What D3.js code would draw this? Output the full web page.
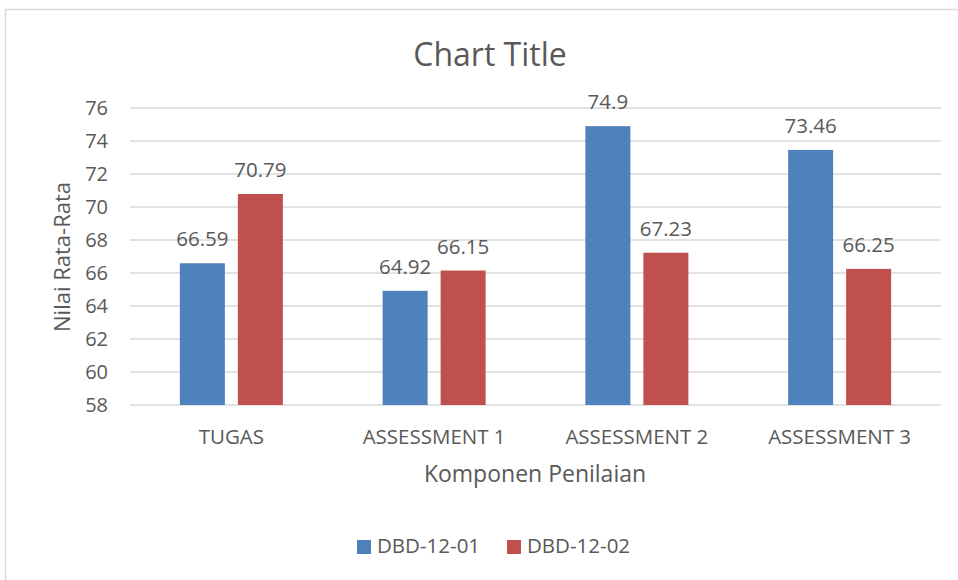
<!DOCTYPE html>
<meta charset="utf-8">
<script src="https://d3js.org/d3.v7.min.js"></script>
<style>
  body { margin: 0; background: #fff; }
  text { font-family: "Open Sans", sans-serif; fill: #595959; }
</style>
<svg id="chart" width="958" height="580"></svg>
<script>

// Data
var categories = ["TUGAS", "ASSESSMENT 1", "ASSESSMENT 2", "ASSESSMENT 3"];
var seriesNames = ["DBD-12-01", "DBD-12-02"];
var dbd1201 = [66.59, 64.92, 74.9, 73.46];
var dbd1202 = [70.79, 66.15, 67.23, 66.25];
var yTicks = [58, 60, 62, 64, 66, 68, 70, 72, 74, 76];

var colors = ["#4F81BD", "#C0504D"];
var seriesValues = [dbd1201, dbd1202];

var svg = d3.select("#chart");

// chart border (runs off the right and bottom edge)
svg.append("rect")
  .attr("x", 5.5).attr("y", 9.5)
  .attr("width", 980).attr("height", 600)
  .attr("fill", "none").attr("stroke", "#D9D9D9").attr("stroke-width", 1.5);

var plotLeft = 130, plotRight = 941, plotTop = 108, plotBottom = 405;

var x0 = d3.scaleBand().domain(categories).range([plotLeft, plotRight]);
var bw = x0.bandwidth();
var x1 = d3.scaleBand().domain(seriesNames)
  .range([bw / 2 - 51.5, bw / 2 + 51.5])
  .paddingInner(0.224);
var y = d3.scaleLinear().domain([58, 76]).range([plotBottom, plotTop]);

// gridlines
svg.append("g")
  .selectAll("line")
  .data(yTicks)
  .enter()
  .append("line")
    .attr("x1", plotLeft).attr("x2", plotRight)
    .attr("y1", function(d){ return y(d) }).attr("y2", function(d){ return y(d) })
    .attr("stroke", "#D9D9D9").attr("stroke-width", 1.5);

// y tick labels
svg.append("g")
  .selectAll("text")
  .data(yTicks)
  .enter()
  .append("text")
    .attr("x", 108)
    .attr("y", function(d){ return y(d) })
    .attr("dy", "0.35em")
    .attr("text-anchor", "end")
    .style("font-size", "20px")
    .text(function(d){ return d });

// bars
var rows = categories.map(function(c, i){
  return seriesNames.map(function(s, j){ return {cat: c, series: s, value: seriesValues[j][i], color: colors[j]} });
});

var groups = svg.append("g")
  .selectAll("g")
  .data(rows)
  .enter()
  .append("g")
    .attr("transform", function(d){ return "translate(" + x0(d[0].cat) + ",0)" });

groups.selectAll("rect")
  .data(function(d){ return d })
  .enter()
  .append("rect")
    .attr("x", function(d){ return x1(d.series) })
    .attr("y", function(d){ return y(d.value) })
    .attr("width", x1.bandwidth())
    .attr("height", function(d){ return plotBottom - y(d.value) })
    .attr("fill", function(d){ return d.color });

// data labels
groups.selectAll("text")
  .data(function(d){ return d })
  .enter()
  .append("text")
    .attr("x", function(d){ return x1(d.series) + x1.bandwidth() / 2 })
    .attr("y", function(d){ return y(d.value) - 17 })
    .attr("text-anchor", "middle")
    .style("font-size", "20.5px")
    .text(function(d){ return d.value });

// category labels
svg.append("g")
  .selectAll("text")
  .data(categories)
  .enter()
  .append("text")
    .attr("x", function(d){ return x0(d) + bw / 2 })
    .attr("y", 444)
    .attr("text-anchor", "middle")
    .style("font-size", "20.5px")
    .text(function(d){ return d });

// titles
svg.append("text")
  .attr("x", 490).attr("y", 66)
  .attr("text-anchor", "middle")
  .style("font-size", "32px")
  .text("Chart Title");

svg.append("text")
  .attr("x", 535).attr("y", 482)
  .attr("text-anchor", "middle")
  .style("font-size", "23px")
  .text("Komponen Penilaian");

svg.append("text")
  .attr("transform", "translate(70,257) rotate(-90)")
  .attr("text-anchor", "middle")
  .style("font-size", "22px")
  .text("Nilai Rata-Rata");

// legend
var legend = svg.append("g")
  .selectAll("g")
  .data(seriesNames)
  .enter()
  .append("g")
    .attr("transform", function(d, i){ return "translate(" + (357 + i * 150) + ",540)" });

legend.append("rect")
  .attr("width", 14).attr("height", 14)
  .attr("fill", function(d, i){ return colors[i] });

legend.append("text")
  .attr("x", 20).attr("y", 13)
  .style("font-size", "20.5px")
  .text(function(d){ return d });

</script>
